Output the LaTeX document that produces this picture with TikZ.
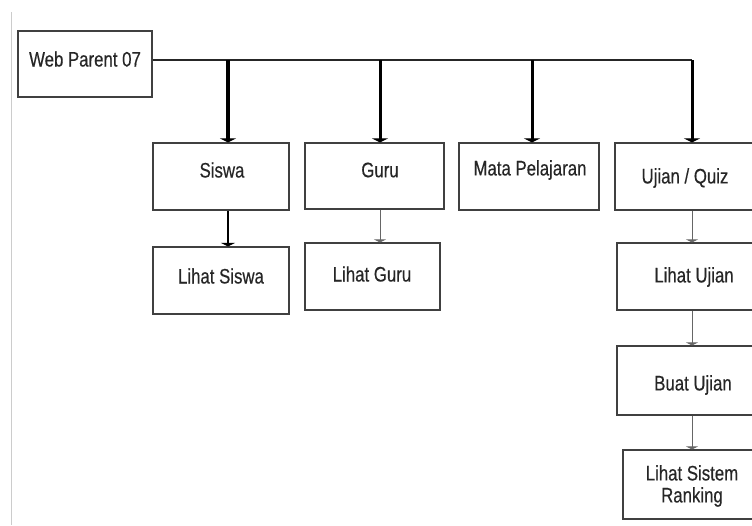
\documentclass[tikz,border=0pt]{standalone}
\usepackage{fontspec}
\setmainfont[FakeStretch=0.8,FakeBold=0.4]{Liberation Sans}
\usetikzlibrary{arrows.meta}
\begin{document}
\begin{tikzpicture}[x=1pt,y=-1pt,
  box/.style={draw=black!75,line width=1.2pt,inner sep=0pt},
  txt/.style={font=\fontsize{21}{24}\selectfont,text=black!85,inner sep=0pt,align=center},
  bus/.style={draw=black!85,line width=2pt},
  big/.style={draw=black,line width=3pt,-{Triangle[width=16pt,length=4pt]}},
  small/.style={draw=black!60,line width=1pt,-{Triangle[width=12pt,length=3pt]}}]
\useasboundingbox (0,0) rectangle (752,525);
\clip (0,0) rectangle (752,525);
\draw[black!20,line width=1pt] (11,12) -- (11,525);
% boxes
\node[box,minimum width=134pt,minimum height=66pt] (wp) at (85,64) {};
\node[box,minimum width=136pt,minimum height=67pt] (siswa) at (221,176.5) {};
\node[box,minimum width=139pt,minimum height=66pt] (guru) at (374.5,176) {};
\node[box,minimum width=140pt,minimum height=67pt] (mapel) at (529,176.5) {};
\node[box,minimum width=150pt,minimum height=67pt] (ujian) at (690,176.5) {};
\node[box,minimum width=136pt,minimum height=67pt] (lsiswa) at (221,280.5) {};
\node[box,minimum width=135pt,minimum height=67pt] (lguru) at (372.5,276.5) {};
\node[box,minimum width=150pt,minimum height=67pt] (lujian) at (692,276.5) {};
\node[box,minimum width=150pt,minimum height=69pt] (buat) at (692,380.5) {};
\node[box,minimum width=150pt,minimum height=69pt] (rank) at (698,484.5) {};
% texts
\node[txt] (twp) at (85,59) {Web Parent 07};
\node[txt] (tsiswa) at (222,170) {Siswa};
\node[txt] (tguru) at (380,170) {Guru};
\node[txt] (tmapel) at (530,170) {Mata Pelajaran};
\node[txt] (tujian) at (685,178) {Ujian / Quiz};
\node[txt] (tlsiswa) at (221,276) {Lihat Siswa};
\node[txt] (tlguru) at (372,274) {Lihat Guru};
\node[txt] (tlujian) at (694,277) {Lihat Ujian};
\node[txt] (tbuat) at (693,385) {Buat Ujian};
\node[txt] (trank) at (692,486) {Lihat Sistem\\[-2pt]Ranking};
% bus
\coordinate (b1) at (228,60);
\coordinate (b2) at (380,60);
\coordinate (b3) at (532,60);
\coordinate (b4) at (692,60);
\draw[bus] (wp.east |- b4) -- (b4);
\draw[big,line width=4pt] (b1) -- (b1 |- siswa.north);
\draw[big] (b2) -- (b2 |- guru.north);
\draw[big] (b3) -- (b3 |- mapel.north);
\draw[big] (b4) -- (b4 |- ujian.north);
% sub arrows
\draw[big,line width=2.5pt,-{Triangle[width=14pt,length=3.5pt]}] (b1 |- siswa.south) -- (b1 |- lsiswa.north);
\draw[small] (b2 |- guru.south) -- (b2 |- lguru.north);
\draw[small] (b4 |- ujian.south) -- (b4 |- lujian.north);
\draw[small] (b4 |- lujian.south) -- (b4 |- buat.north);
\draw[small] (b4 |- buat.south) -- (b4 |- rank.north);
\end{tikzpicture}
\end{document}
